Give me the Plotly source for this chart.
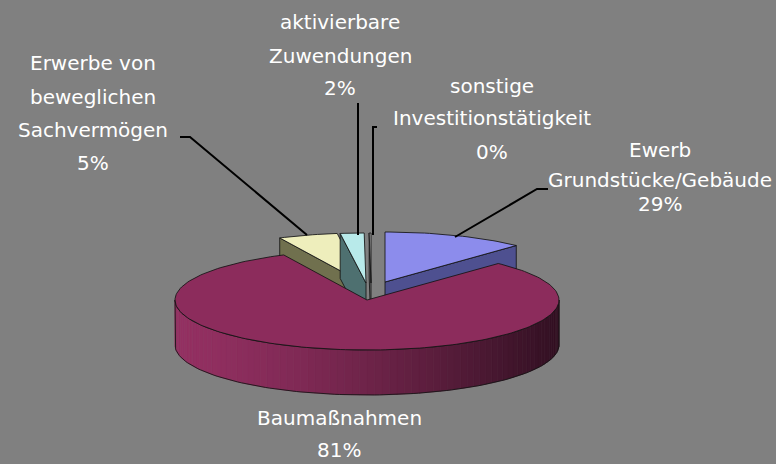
import math
import plotly.graph_objects as go

# ---- data ----
categories = ["Ewerb Grundstücke/Gebäude", "Baumaßnahmen",
              "Erwerbe von beweglichen Sachvermögen",
              "aktivierbare Zuwendungen", "sonstige Investitionstätigkeit"]
values = [12, 81, 5, 2, 0.15]          # slice sizes as drawn in the picture
label_lines = [["Ewerb", "Grundstücke/Gebäude", "29%"],
               ["Baumaßnahmen", "81%"],
               ["Erwerbe von", "beweglichen", "Sachvermögen", "5%"],
               ["aktivierbare", "Zuwendungen", "2%"],
               ["sonstige", "Investitionstätigkeit", "0%"]]

# ---- style / geometry ----
W, H = 776, 464
BG = "#808080"
cx, cy, a, b, depth = 367, 300, 192, 50, 45
explode = [(18, -18), (0, 0), (-4, -17), (-1, -17), (4, -17)]
top_col = ["#8C8CEC", "#8C2C5C", "#EEEEBC", "#B8EAEA", "#B0B0B0"]
side_col = ["#4E5090", "#6A2044", "#70704E", "#4E7070", "#707070"]
EDGE = "rgba(20,20,20,0.85)"
FONT = dict(family="DejaVu Sans, sans-serif", size=20, color="white")

total = sum(values)
angles = []
acc = 0.0
for v in values:
    s = acc / total * 360
    acc += v
    e = acc / total * 360
    angles.append((s, e))


def pt(theta, off, z=0.0):
    r = math.radians(theta)
    return cx + off[0] + a * math.sin(r), cy + off[1] - b * math.cos(r) + z


def arc(s, e, off, z=0.0, n=None):
    if n is None:
        n = max(2, int(abs(e - s) / 1.5) + 2)
    return [pt(s + (e - s) * k / (n - 1), off, z) for k in range(n)]


fig = go.Figure()


def poly(points, fill, line_color=EDGE, width=1):
    xs = [p[0] for p in points] + [points[0][0]]
    ys = [p[1] for p in points] + [points[0][1]]
    fig.add_trace(go.Scatter(x=xs, y=ys, mode="lines", fill="toself",
                             fillcolor=fill,
                             line=dict(color=line_color, width=width),
                             hoverinfo="skip", showlegend=False))


def lerp_col(c1, c2, t):
    return "rgb(%d,%d,%d)" % tuple(round(c1[i] + (c2[i] - c1[i]) * t) for i in range(3))


draw_order = [2, 3, 4, 0, 1]
for i in draw_order:
    s, e = angles[i]
    off = explode[i]
    apex = (cx + off[0], cy + off[1])
    apex_b = (apex[0], apex[1] + depth)
    # radial faces
    if math.sin(math.radians(s)) < 0:
        poly([apex, pt(s, off), pt(s, off, depth), apex_b], side_col[i])
    if math.sin(math.radians(e)) > 0.01:
        poly([apex, pt(e, off), pt(e, off, depth), apex_b], side_col[i])
    # outer wall (front-facing part)
    ws, we = max(s, 90), min(e, 270)
    if we > ws:
        n = 80
        step = (we - ws) / n
        for k in range(n):
            t0 = ws + k * step
            t1 = t0 + step * 1.02
            pts = [pt(t0, off), pt(t1, off), pt(t1, off, depth), pt(t0, off, depth)]
            xm = (pts[0][0] - (cx - a)) / (2 * a)
            if i == 1:
                col = lerp_col((148, 48, 98), (50, 16, 34), max(0, min(1, xm)) ** 1.4)
            else:
                col = side_col[i]
            poly(pts, col, line_color=col, width=0.5)
        outline = arc(ws, we, off) + arc(we, ws, off, depth)
        xs = [p[0] for p in outline] + [outline[0][0]]
        ys = [p[1] for p in outline] + [outline[0][1]]
        fig.add_trace(go.Scatter(x=xs, y=ys, mode="lines",
                                 line=dict(color=EDGE, width=1),
                                 hoverinfo="skip", showlegend=False))
    # top face
    poly([apex] + arc(s, e, off), top_col[i])

# ---- leader lines ----
leaders = [
    [(548, 189), (537, 189), (455, 237)],
    None,
    [(180, 137), (190, 137), (307, 235)],
    [(358, 103), (358, 235)],
    [(377, 127), (373, 127), (373, 235)],
]
for ln in leaders:
    if ln:
        fig.add_trace(go.Scatter(x=[p[0] for p in ln], y=[p[1] for p in ln],
                                 mode="lines", line=dict(color="black", width=2),
                                 hoverinfo="skip", showlegend=False))

# ---- labels (one annotation per text line) ----
label_x = [660, 339, 93, 340, 492]
label_y = [[150, 180, 204], [418, 450], [63, 97, 130, 163], [22, 56, 88], [86, 118, 152]]
for lines, x, ys in zip(label_lines, label_x, label_y):
    for txt, y in zip(lines, ys):
        fig.add_annotation(x=x, y=y, text=txt, showarrow=False, font=FONT,
                           xanchor="center", yanchor="middle", align="center")

fig.update_layout(
    width=W, height=H, margin=dict(l=0, r=0, t=0, b=0),
    paper_bgcolor=BG, plot_bgcolor=BG,
    xaxis=dict(range=[0, W], visible=False, fixedrange=True),
    yaxis=dict(range=[H, 0], visible=False, fixedrange=True),
)
fig.write_html("out.html", config={"displayModeBar": False},
               post_script="document.body.style.margin='0';")
